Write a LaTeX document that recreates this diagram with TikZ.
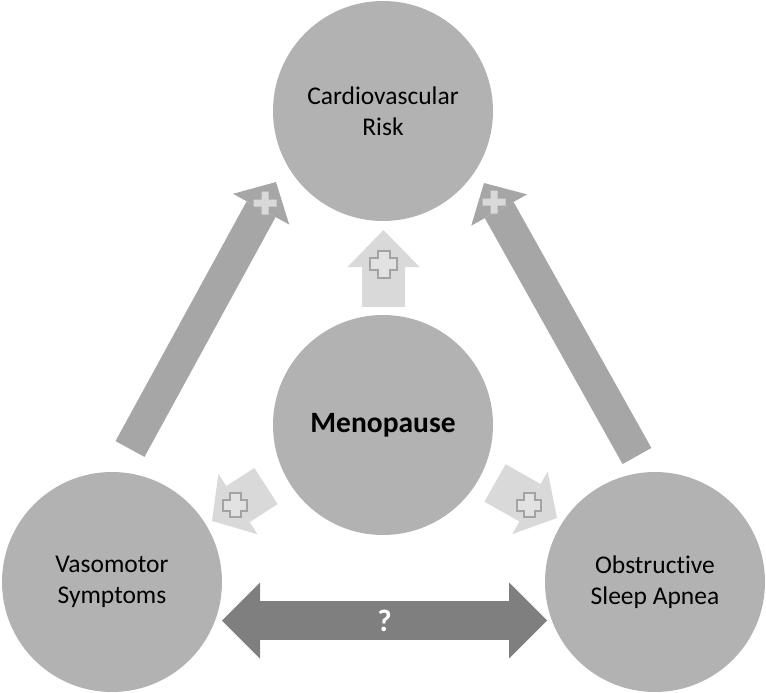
\documentclass[tikz,border=0pt]{standalone}
\usepackage{fontspec}
\setmainfont{Carlito}[Ligatures=NoCommon]
\usetikzlibrary{arrows.meta}

\definecolor{circfill}{HTML}{B2B2B2}
\definecolor{bigarr}{HTML}{A6A6A6}
\definecolor{smallarr}{HTML}{D9D9D9}
\definecolor{bothwayarr}{HTML}{7F7F7F}
\definecolor{crossline}{HTML}{A3A3A3}
\definecolor{crossfill}{HTML}{E2E2E2}

\tikzset{
  bubble/.style={circle, fill=circfill, minimum size=220pt, inner sep=0pt,
    align=center, text=black, font=\fontsize{25.5}{30.5}\selectfont},
  bigarrow/.style={draw=bigarr, line width=33pt,
    -{Triangle[width=64pt,length=31pt,line width=0pt]}},
  smallarrow/.style={draw=smallarr, line width=43pt,
    -{Triangle[width=72pt,length=#1,line width=0pt]}},
  smallarrow/.default=37pt,
  bothway/.style={draw=bothwayarr, line width=39pt,
    {Triangle[width=76pt,length=38pt,line width=0pt]}-{Triangle[width=76pt,length=38pt,line width=0pt]}},
  pics/cross/.style args={#1/#2}{code={
    \path[pic actions] (-#2,-#1) -- (#2,-#1) -- (#2,-#2) -- (#1,-#2) -- (#1,#2) -- (#2,#2)
      -- (#2,#1) -- (-#2,#1) -- (-#2,#2) -- (-#1,#2) -- (-#1,-#2) -- (-#2,-#2) -- cycle;
  }}
}

\begin{document}
\begin{tikzpicture}[x=1pt, y=-1pt]
        \useasboundingbox (0, 0) rectangle (766, 693);
        \coordinate (VT) at (130, 449);
        \coordinate (VH) at (276, 182);
        \coordinate (OT) at (637, 456);
        \coordinate (OH) at (484, 183);
        \coordinate (UT) at (383.5, 307);
        \coordinate (UH) at (383.5, 230);
        \coordinate (LT) at (266, 486);
        \coordinate (LH) at (212, 521);
        \coordinate (RT) at (495, 483);
        \coordinate (RH) at (557, 518);
        \coordinate (QL) at (222, 620.5);
        \coordinate (QR) at (547, 620.5);
\node[bubble] (cvr) at (383, 111) {Cardiovascular\\Risk};
\node[bubble, font=\fontsize{29.5}{34}\selectfont\bfseries] (meno) at (383, 425) {Menopause};
\node[bubble] (vms) at (112, 582) {Vasomotor\\Symptoms};
\node[bubble] (osa) at (655, 582) {Obstructive\\Sleep Apnea};
\draw[bigarrow] (VT)--(VH);
\draw[bigarrow] (OT)--(OH);
\draw[smallarrow] (UT)--(UH);
\draw[smallarrow=31pt] (LT)--(LH);
\draw[smallarrow=31pt] (RT)--(RH);
\draw[bothway] (QL)--node[text=white, font=\fontsize{31}{34}\selectfont\bfseries] (qm) {?}(QR);
\pic[fill=smallarr] at (265, 203) {cross=11.5/3.5};
\pic[fill=smallarr] at (494, 202) {cross=11.5/3.5};
\pic[fill=crossfill, draw=crossline, line width=2pt] at (383.5, 264) {cross=13.5/6};
\pic[fill=crossfill, draw=crossline, line width=2pt] at (235, 505) {cross=12/5.5};
\pic[fill=crossfill, draw=crossline, line width=2pt] at (529, 505) {cross=12/5.5};
\end{tikzpicture}
\end{document}
